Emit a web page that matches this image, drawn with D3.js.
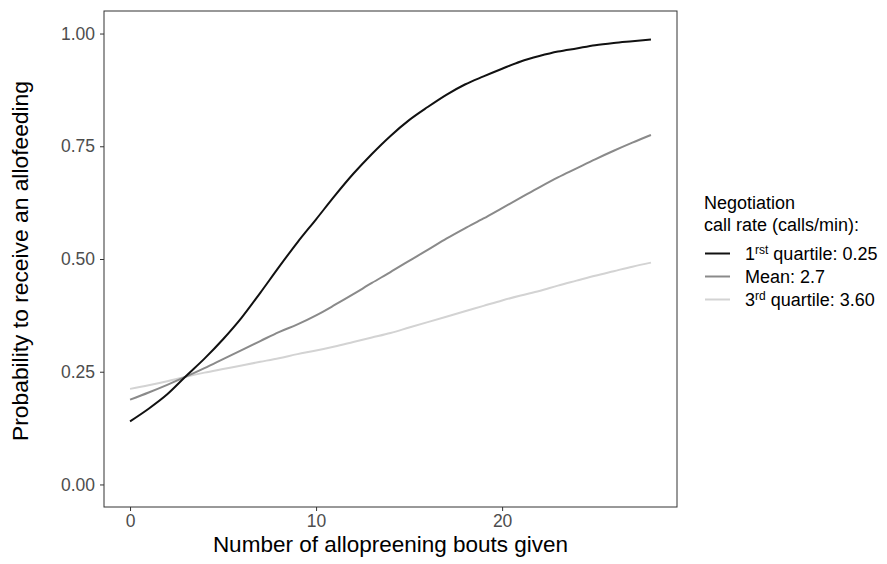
<!DOCTYPE html>
<html>
<head>
<meta charset="utf-8">
<script src="https://cdn.jsdelivr.net/npm/d3@7"></script>
<style>
  body { margin: 0; background: #fff; }
  svg { display: block; font-family: "Liberation Sans", Arial, sans-serif; }
</style>
</head>
<body>
<svg id="chart" width="887" height="564"></svg>
<script>
// Predicted probability of receiving an allofeeding vs. allopreening bouts given,
// at three negotiation call rates.
const bouts = [0,1,2,3,4,5,6,7,8,9,10,11,12,13,14,15,16,17,18,19,20,21,22,23,24,25,26,27,28];

const firstQuartile = [0.140,0.168,0.200,0.240,0.279,0.322,0.370,0.425,0.482,0.537,0.588,0.640,0.689,0.733,0.773,0.808,0.837,0.864,0.887,0.905,0.922,0.938,0.950,0.960,0.967,0.974,0.979,0.983,0.987];
const meanRate      = [0.188,0.204,0.221,0.239,0.258,0.278,0.298,0.318,0.338,0.355,0.375,0.398,0.422,0.447,0.471,0.496,0.520,0.545,0.568,0.590,0.613,0.636,0.659,0.681,0.701,0.721,0.740,0.758,0.775];
const thirdQuartile = [0.212,0.220,0.229,0.239,0.248,0.256,0.264,0.272,0.280,0.289,0.297,0.306,0.316,0.326,0.336,0.348,0.360,0.372,0.384,0.396,0.408,0.419,0.429,0.441,0.452,0.463,0.473,0.483,0.492];

const seriesNames  = ["1rst quartile: 0.25", "Mean: 2.7", "3rd quartile: 3.60"];
const seriesColors = ["#111111", "#8a8a8a", "#d3d3d3"];
const xTicks = [0, 10, 20];
const yTicks = [0, 0.25, 0.5, 0.75, 1];

const series = [firstQuartile, meanRate, thirdQuartile].map((vals, i) => ({
  name: seriesNames[i],
  color: seriesColors[i],
  points: bouts.map((b, j) => ({ x: b, y: vals[j] }))
}));

const svg = d3.select("#chart");
const panel = { left: 104, right: 677, top: 11, bottom: 507 };

const x = d3.scaleLinear().domain([-1.4, 29.4]).range([panel.left, panel.right]);
const y = d3.scaleLinear().domain([-0.05, 1.05]).range([panel.bottom, panel.top]);

// Axes
const xAxis = svg.append("g")
  .attr("transform", `translate(0,${panel.bottom})`)
  .call(d3.axisBottom(x).tickValues(xTicks).tickFormat(d3.format("d")).tickSize(4).tickPadding(4));
const yAxis = svg.append("g")
  .attr("transform", `translate(${panel.left},0)`)
  .call(d3.axisLeft(y).tickValues(yTicks).tickFormat(d3.format(".2f")).tickSize(4).tickPadding(5));

[xAxis, yAxis].forEach(g => {
  g.select(".domain").remove();
  g.selectAll(".tick line").attr("stroke", "#333").attr("stroke-width", 1);
  g.selectAll(".tick text").attr("fill", "#4d4d4d").style("font-size", "17.5px");
});

// Panel border
svg.append("rect")
  .attr("x", panel.left).attr("y", panel.top)
  .attr("width", panel.right - panel.left).attr("height", panel.bottom - panel.top)
  .attr("fill", "none").attr("stroke", "#333").attr("stroke-width", 1);

// Curves
const line = d3.line().x(d => x(d.x)).y(d => y(d.y)).curve(d3.curveMonotoneX);
svg.append("g").selectAll("path")
  .data(series.slice().reverse())
  .join("path")
  .attr("d", d => line(d.points))
  .attr("fill", "none")
  .attr("stroke", d => d.color)
  .attr("stroke-width", 2)
  .attr("stroke-linejoin", "round");

// Axis titles
svg.append("text")
  .attr("x", (panel.left + panel.right) / 2).attr("y", 552)
  .attr("text-anchor", "middle")
  .style("font-size", "22.5px").attr("fill", "#000")
  .text("Number of allopreening bouts given");

svg.append("text")
  .attr("transform", `translate(28,${(panel.top + panel.bottom) / 2 + 2}) rotate(-90)`)
  .attr("text-anchor", "middle")
  .style("font-size", "22.8px").attr("fill", "#000")
  .text("Probability to receive an allofeeding");

// Legend
const legend = svg.append("g").attr("transform", "translate(704,0)");
legend.append("text").attr("x", 0).attr("y", 209).style("font-size", "18px").attr("fill", "#000").text("Negotiation");
legend.append("text").attr("x", 0).attr("y", 231).style("font-size", "18px").attr("fill", "#000").text("call rate (calls/min):");

const itemY = [253.5, 276.5, 299.5];
series.forEach((s, i) => {
  const g = legend.append("g").attr("transform", `translate(0,${itemY[i]})`);
  g.append("line").attr("x1", 1).attr("x2", 26).attr("y1", 0).attr("y2", 0)
    .attr("stroke", s.color).attr("stroke-width", 2);
  const t = g.append("text").attr("x", 41).attr("y", 6).style("font-size", "18px").attr("fill", "#000");
  if (i === 0) {
    t.append("tspan").text("1");
    t.append("tspan").attr("dy", -6).style("font-size", "12px").text("rst");
    t.append("tspan").attr("dy", 6).text(" quartile: 0.25");
  } else if (i === 2) {
    t.append("tspan").text("3");
    t.append("tspan").attr("dy", -6).style("font-size", "12px").text("rd");
    t.append("tspan").attr("dy", 6).text(" quartile: 3.60");
  } else {
    t.text(s.name);
  }
});
</script>
</body>
</html>
